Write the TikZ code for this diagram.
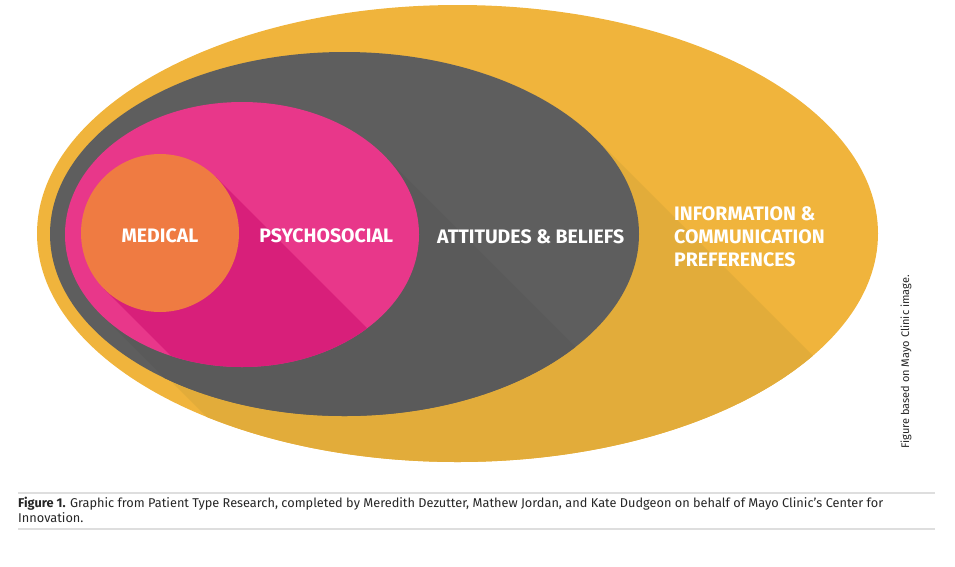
\documentclass[tikz,border=0pt]{standalone}
\usepackage{fontspec}
\setmainfont{Fira Sans}
\usepackage{xcolor}
\usetikzlibrary{shapes.geometric,positioning}

\definecolor{infoyellow}{RGB}{240,180,60}
\definecolor{infoshade}{RGB}{226,172,58}
\definecolor{beliefgray}{RGB}{94,94,94}
\definecolor{beliefshade}{RGB}{90,90,90}
\definecolor{psychopink}{RGB}{232,55,138}
\definecolor{psychoshade}{RGB}{216,31,122}
\definecolor{medorange}{RGB}{239,123,66}
\definecolor{rulegray}{RGB}{222,222,222}

\begin{document}
\begin{tikzpicture}[x=1pt,y=-1pt,
                blob/.style={ellipse,inner sep=0pt,outer sep=0pt},
                word/.style={text=white,inner sep=0pt,align=left,yshift=-2.5pt,
                  font=\bfseries\fontsize{19.5}{23}\selectfont},
                rule/.style={draw=rulegray,line width=1.3pt}]
  \useasboundingbox (0,0) rectangle (955,566);

  \node[blob,fill=infoyellow,minimum width=841pt,minimum height=457pt]
        (4) at (457.5,233.5) {};
  \begin{scope}
    \clip (4.center) ellipse (420.5 and 228.5);
    \fill[infoshade] (595,138) -- +(500,500)
      -- ([shift={(500,500)}]107,317) -- (107,317) -- cycle;
  \end{scope}
  \node[blob,fill=beliefgray,minimum width=589pt,minimum height=364pt]
        (3) at (344.5,234) {};
  \begin{scope}
    \clip (3.center) ellipse (294.5 and 182);
    \fill[beliefshade] (383.7,155.1) -- +(500,500)
      -- ([shift={(500,500)}]100.3,313.9) -- (100.3,313.9) -- cycle;
  \end{scope}
  \node[blob,fill=psychopink,minimum width=354pt,minimum height=265pt]
        (2) at (242,234.5) {};
  \begin{scope}
    \clip (2.center) ellipse (177 and 132.5);
    \fill[psychoshade] (215.9,177.1) -- +(500,500)
      -- ([shift={(500,500)}]104.1,288.9) -- (104.1,288.9) -- cycle;
  \end{scope}
  \node[circle,inner sep=0pt,fill=medorange,minimum size=158pt]
        (1) at (160,233) {};

  \node[word] (m) at (1) {MEDICAL};
  \node[word] (5) [right=20pt of 1] {PSYCHOSOCIAL};
  \node[word] (6) [right=18pt of 2] {ATTITUDES \& BELIEFS};
  \node[word] (7) [right=35pt of 3] {INFORMATION \&\\COMMUNICATION\\PREFERENCES};

  \node[rotate=90,inner sep=0pt,text=black!85,font=\fontsize{11}{13}\selectfont]
        (8) at (906,362) {Figure based on Mayo Clinic image.};

  \draw[rule] (18,493) -- (935,493);
  \draw[rule] (18,529) -- (935,529);
  \node[anchor=base west,inner sep=0pt,text=black!85,font=\fontsize{12.75}{15}\selectfont]
        (9) at (18,507) {\textbf{Figure 1.} Graphic from Patient Type Research, completed by Meredith Dezutter, Mathew Jordan, and Kate Dudgeon on behalf of Mayo Clinic’s Center for};
  \node[anchor=base west,inner sep=0pt,text=black!85,font=\fontsize{12.75}{15}\selectfont]
        (10) at (18,522.5) {Innovation.};
\end{tikzpicture}
\end{document}
